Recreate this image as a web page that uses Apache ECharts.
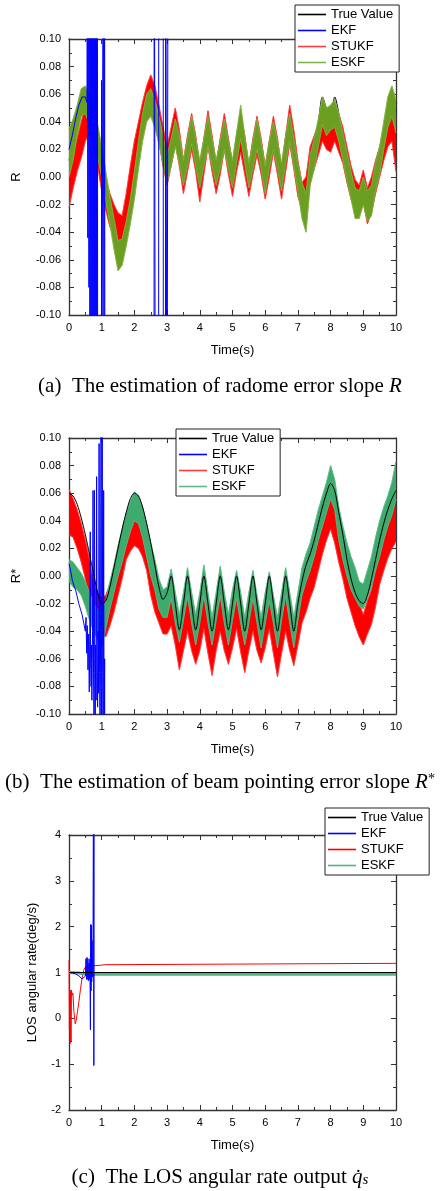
<!DOCTYPE html>
<html><head><meta charset="utf-8">
<script src="https://cdn.jsdelivr.net/npm/echarts@6/dist/echarts.min.js"></script>
<style>html,body{margin:0;padding:0;background:#fff}#c{width:440px;height:1191px}</style>
</head><body><div id="c"></div>
<script>
// sampling times (s)
const timeGrid = [
0,0.125,0.25,0.375,0.5,0.625,0.75,0.875,
1,1.125,1.25,1.375,1.5,1.625,1.75,1.875,
2,2.125,2.25,2.375,2.5,2.625,2.75,2.875,
3,3.125,3.25,3.375,3.5,3.625,3.75,3.875,
4,4.125,4.25,4.375,4.5,4.625,4.75,4.875,
5,5.125,5.25,5.375,5.5,5.625,5.75,5.875,
6,6.125,6.25,6.375,6.5,6.625,6.75,6.875,
7,7.125,7.25,7.375,7.5,7.625,7.75,7.875,
8,8.125,8.25,8.375,8.5,8.625,8.75,8.875,
9,9.125,9.25,9.375,9.5,9.625,9.75,9.875,
10];

// ---- Panel (a): R ----
const trueA = [
0.012,0.025,0.038,0.05,0.056,0.052,0.042,0.028,
0.012,-0.006,-0.022,-0.036,-0.045,-0.046,-0.038,-0.024,
-0.006,0.014,0.034,0.05,0.058,0.052,0.04,0.024,
0.008,0.02,0.034,0.021,0.005,0.02,0.035,0.02,
0.004,0.02,0.035,0.02,0.004,0.019,0.033,0.019,
0.003,0.021,0.038,0.02,0.002,0.018,0.033,0.018,
0.0,0.017,0.031,0.018,0.002,0.02,0.037,0.02,
0.003,-0.01,-0.017,0.016,0.026,0.04,0.058,0.05,
0.046,0.058,0.046,0.028,0.012,0.0,-0.012,-0.015,
0.001,-0.016,-0.014,0.002,0.014,0.03,0.05,0.059,
0.048];
const eskfAHi = [
0.035,0.042,0.052,0.064,0.066,0.06,0.05,0.038,
0.022,0.004,-0.014,-0.03,-0.046,-0.045,-0.032,-0.016,
0.004,0.026,0.046,0.06,0.064,0.056,0.044,0.03,
0.016,0.028,0.042,0.03,0.012,0.028,0.044,0.028,
0.012,0.028,0.044,0.028,0.012,0.026,0.042,0.026,
0.012,0.032,0.052,0.03,0.01,0.026,0.042,0.026,
0.008,0.026,0.04,0.026,0.01,0.03,0.046,0.028,
0.01,-0.004,-0.012,0.016,0.028,0.042,0.058,0.05,
0.052,0.056,0.046,0.032,0.018,0.004,-0.008,-0.01,
0.0,-0.01,-0.006,0.01,0.022,0.04,0.058,0.066,
0.056];
const eskfALo = [
0.0,0.012,0.03,0.044,0.046,0.038,0.028,0.014,
0.0,-0.018,-0.034,-0.052,-0.068,-0.064,-0.05,-0.034,
-0.016,0.006,0.026,0.04,0.044,0.036,0.024,0.01,
-0.004,0.008,0.022,0.01,-0.006,0.008,0.024,0.008,
-0.008,0.008,0.022,0.008,-0.006,0.006,0.02,0.006,
-0.008,0.01,0.028,0.01,-0.008,0.006,0.02,0.006,
-0.012,0.006,0.02,0.006,-0.01,0.01,0.026,0.008,
-0.01,-0.03,-0.04,-0.006,0.006,0.022,0.038,0.03,
0.034,0.036,0.026,0.012,-0.002,-0.016,-0.03,-0.03,
-0.02,-0.032,-0.028,-0.01,0.002,0.02,0.036,0.044,
0.032];
const stukfAHi = [
0.018,0.018,0.028,0.04,0.052,0.058,0.052,0.036,
0.014,-0.002,-0.012,-0.02,-0.026,-0.028,-0.012,0.008,
0.026,0.04,0.054,0.066,0.074,0.066,0.052,0.036,
0.022,0.036,0.05,0.034,0.012,0.03,0.046,0.03,
0.008,0.028,0.048,0.03,0.01,0.028,0.046,0.028,
0.01,0.03,0.046,0.03,0.008,0.028,0.044,0.028,
0.008,0.026,0.044,0.028,0.006,0.03,0.052,0.034,
0.012,-0.004,0.0,0.022,0.03,0.038,0.048,0.04,
0.046,0.052,0.046,0.036,0.022,0.008,-0.002,-0.006,
0.005,-0.008,0.0,0.012,0.022,0.034,0.046,0.052,
0.042];
const stukfALo = [
-0.022,-0.008,0.004,0.014,0.026,0.032,0.024,0.008,
-0.01,-0.024,-0.036,-0.043,-0.048,-0.054,-0.04,-0.018,
0.0,0.016,0.03,0.044,0.052,0.04,0.026,0.008,
-0.006,0.008,0.024,0.008,-0.012,0.004,0.02,0.004,
-0.018,0.002,0.022,0.004,-0.012,0.002,0.02,0.002,
-0.014,0.004,0.018,0.002,-0.014,0.002,0.016,0.002,
-0.016,0.0,0.018,0.002,-0.016,0.004,0.024,0.006,
-0.014,-0.024,-0.028,-0.004,0.006,0.016,0.026,0.02,
0.018,0.026,0.018,0.01,-0.004,-0.016,-0.024,-0.028,
-0.018,-0.034,-0.026,-0.012,0.0,0.012,0.022,0.026,
0.004];
// EKF (a): [time, value]; values beyond +/-0.1 are off-scale
const ekfA = [[0,0.02],[0.1,0.03],[0.2,0.042],[0.3,0.052],[0.4,0.058],[0.5,0.058],[0.55,0.054],
[0.56,0.3],[0.575,-0.044],[0.59,0.3],[0.61,-0.08],[0.625,0.3],[0.64,-0.3],[0.655,0.3],[0.67,-0.3],
[0.685,0.3],[0.7,-0.3],[0.715,0.3],[0.73,-0.3],[0.745,0.3],[0.76,-0.3],[0.775,0.3],[0.79,-0.3],
[0.805,0.3],[0.82,-0.3],[0.835,0.3],[0.85,-0.3],[0.865,0.3],[0.88,-0.3],
[0.99,-0.3],[0.995,0.07],[1.0,-0.3],[1.045,-0.3],[1.05,0.3],[1.07,-0.3],[1.085,0.3],[1.1,-0.3],
[2.6,-0.3],[2.605,0.3],[2.64,0.3],[2.645,-0.3],[2.74,-0.3],[2.745,0.3],[2.88,0.3],[2.885,-0.3],
[2.95,-0.3],[2.955,0.3],[2.99,0.3],[2.995,-0.3],[3.03,-0.3],[3.035,0.3],[10,0.3]];

// ---- Panel (b): R* ----
const trueB = [
0.06,0.058,0.052,0.042,0.03,0.016,0.002,-0.012,
-0.02,-0.018,-0.008,0.006,0.02,0.034,0.046,0.056,
0.06,0.058,0.05,0.038,0.024,0.008,-0.008,-0.017,
-0.012,0.0,-0.02,-0.039,-0.02,0.0,-0.02,-0.039,
-0.02,0.0,-0.02,-0.04,-0.02,0.0,-0.02,-0.039,
-0.02,0.0,-0.02,-0.04,-0.02,0.0,-0.02,-0.039,
-0.02,0.0,-0.02,-0.04,-0.02,0.0,-0.02,-0.04,
-0.02,-0.004,0.008,0.016,0.026,0.038,0.05,0.06,
0.067,0.062,0.046,0.03,0.012,-0.002,-0.012,-0.018,
-0.02,-0.014,-0.002,0.012,0.026,0.038,0.048,0.056,
0.062];
const eskfBHi = [
0.012,0.01,0.006,0.002,-0.004,-0.012,-0.02,-0.024,
-0.026,-0.018,-0.004,0.008,0.022,0.034,0.046,0.054,
0.061,0.058,0.05,0.038,0.024,0.012,-0.002,-0.01,
-0.008,0.005,-0.012,-0.028,-0.012,0.006,-0.012,-0.028,
-0.012,0.008,-0.012,-0.03,-0.012,0.007,-0.012,-0.028,
-0.01,0.004,-0.012,-0.03,-0.012,0.004,-0.014,-0.03,
-0.012,0.003,-0.014,-0.03,-0.012,0.006,-0.012,-0.03,
-0.012,0.006,0.016,0.024,0.036,0.048,0.058,0.068,
0.08,0.07,0.05,0.036,0.024,0.014,0.006,-0.004,
-0.006,0.004,0.014,0.028,0.04,0.05,0.058,0.068,
0.083];
const eskfBLo = [
-0.004,-0.008,-0.01,-0.014,-0.022,-0.032,-0.04,-0.046,
-0.052,-0.038,-0.024,-0.012,0.0,0.01,0.022,0.032,
0.04,0.038,0.028,0.014,0.0,-0.01,-0.024,-0.03,
-0.03,-0.016,-0.034,-0.048,-0.032,-0.014,-0.034,-0.05,
-0.034,-0.014,-0.034,-0.05,-0.032,-0.014,-0.034,-0.05,
-0.032,-0.016,-0.034,-0.05,-0.034,-0.016,-0.034,-0.052,
-0.034,-0.018,-0.034,-0.052,-0.032,-0.014,-0.034,-0.052,
-0.032,-0.014,-0.004,0.004,0.014,0.026,0.036,0.046,
0.056,0.048,0.026,0.012,0.0,-0.01,-0.016,-0.022,
-0.024,-0.016,-0.008,0.004,0.014,0.026,0.036,0.044,
0.056];
const stukfBHi = [
0.063,0.056,0.048,0.038,0.026,0.012,-0.004,-0.012,
-0.016,-0.014,-0.006,0.002,0.012,0.026,0.036,0.042,
0.045,0.044,0.038,0.03,0.014,0.0,-0.01,-0.016,
-0.018,-0.012,-0.026,-0.042,-0.03,-0.016,-0.03,-0.04,
-0.03,-0.014,-0.03,-0.046,-0.03,-0.014,-0.03,-0.04,
-0.028,-0.014,-0.03,-0.044,-0.03,-0.015,-0.03,-0.04,
-0.028,-0.014,-0.03,-0.046,-0.03,-0.015,-0.03,-0.04,
-0.024,-0.008,0.002,0.01,0.018,0.03,0.042,0.052,
0.062,0.052,0.036,0.024,0.01,0.0,-0.01,-0.02,
-0.028,-0.018,-0.01,0.006,0.024,0.036,0.044,0.05,
0.058];
const stukfBLo = [
0.03,0.028,0.02,0.01,-0.002,-0.016,-0.03,-0.038,
-0.04,-0.044,-0.036,-0.026,-0.014,-0.002,0.012,0.018,
0.022,0.02,0.014,0.004,-0.014,-0.026,-0.034,-0.042,
-0.042,-0.036,-0.05,-0.068,-0.054,-0.04,-0.054,-0.064,
-0.054,-0.038,-0.056,-0.072,-0.054,-0.04,-0.054,-0.064,
-0.052,-0.038,-0.055,-0.07,-0.054,-0.04,-0.054,-0.063,
-0.052,-0.038,-0.056,-0.073,-0.056,-0.04,-0.054,-0.065,
-0.05,-0.034,-0.026,-0.016,-0.008,0.004,0.016,0.026,
0.034,0.024,0.01,-0.002,-0.016,-0.026,-0.036,-0.044,
-0.05,-0.042,-0.035,-0.022,-0.006,0.004,0.013,0.02,
0.025];
const ekfB = [[0,0.009],[0.05,0.004],[0.1,-0.003],[0.15,-0.007],[0.2,-0.01],[0.25,-0.015],[0.3,-0.02],
[0.35,-0.024],[0.4,-0.028],[0.45,-0.034],[0.5,-0.04],[0.52,-0.03],[0.54,-0.056],[0.56,-0.036],
[0.58,-0.068],[0.6,-0.042],[0.62,-0.084],[0.635,-0.045],[0.65,0.032],[0.66,-0.06],[0.675,-0.08],
[0.69,-0.05],[0.7,-0.09],[0.72,-0.04],[0.735,0.062],[0.75,-0.07],[0.765,-0.1],[0.78,0.062],
[0.79,-0.06],[0.8,-0.12],[0.815,-0.05],[0.83,-0.09],[0.845,0.072],[0.86,-0.06],[0.875,-0.095],
[0.89,-0.04],[0.905,-0.085],[0.92,0.096],[0.935,-0.07],[0.95,-0.12],[0.965,-0.05],[0.98,0.15],
[0.99,-0.08],[1.0,-0.12],[1.015,0.15],[1.03,-0.07],[1.045,-0.15],[1.06,0.062],[1.075,-0.15],
[1.09,-0.06],[1.1,-0.3],[10,-0.3]];

// ---- Panel (c): LOS angular rate (deg/s) ----
const trueC = [[0,1],[10,1]];
const eskfC = [[0,1.0],[0.3,0.99],[0.45,0.972],[0.6,0.962],[10,0.962]];
const stukfC = [[0,1.27],[0.012,-0.25],[0.024,0.62],[0.036,-0.55],[0.05,0.6],[0.062,-0.5],[0.075,0.62],
[0.09,0.5],[0.12,0.55],[0.15,0.15],[0.19,-0.12],[0.22,-0.05],[0.26,0.15],[0.3,0.35],[0.35,0.63],
[0.4,0.88],[0.45,1.05],[0.5,1.12],[0.6,1.14],[0.8,1.15],[1.0,1.16],[1.08,1.17],[1.12,1.2],[10,1.2]];
const ekfC = [[0,1.0],[0.1,0.99],[0.2,0.97],[0.3,0.93],[0.4,0.86],[0.45,0.82],[0.5,0.92],[0.52,1.3],
[0.535,0.85],[0.55,1.33],[0.565,0.85],[0.58,1.3],[0.595,0.82],[0.61,1.2],[0.625,0.85],[0.64,1.3],
[0.655,-0.25],[0.665,2.05],[0.675,0.6],[0.685,2.03],[0.695,0.8],[0.705,1.7],[0.72,0.9],[0.735,1.7],
[0.75,6],[0.76,-1.03],[0.77,6],[10,6]];

const legendNames = ['True Value','EKF','STUKF','ESKF'];

const F = 'Liberation Sans, Arial, sans-serif';
const S = 'Liberation Serif, Times New Roman, serif';
const AX = '#333';

function xAxes(g) {
  const base = {type:'value', gridIndex:g, min:0, max:10, interval:1,
    axisLine:{show:true,onZero:false,lineStyle:{color:AX,width:1.3}},
    axisTick:{show:true,inside:true,length:5,lineStyle:{color:AX,width:1}},
    minorTick:{show:true,splitNumber:2,length:3,lineStyle:{color:AX,width:1}},
    splitLine:{show:false}, minorSplitLine:{show:false}};
  return [
    Object.assign({}, base, {position:'bottom',
      axisLabel:{fontSize:11,color:'#000',margin:7,fontFamily:F},
      name:'Time(s)', nameLocation:'middle', nameGap:29,
      nameTextStyle:{fontSize:13,color:'#000',fontFamily:F}}),
    Object.assign({}, base, {position:'top', axisLabel:{show:false}})
  ];
}
function yAxes(g, min, max, interval, dec, name, gap) {
  const base = {type:'value', gridIndex:g, min, max, interval,
    axisLine:{show:true,onZero:false,lineStyle:{color:AX,width:1.3}},
    axisTick:{show:true,inside:true,length:5,lineStyle:{color:AX,width:1}},
    minorTick:{show:true,splitNumber:2,length:3,lineStyle:{color:AX,width:1}},
    splitLine:{show:false}, minorSplitLine:{show:false}};
  return [
    Object.assign({}, base, {position:'left',
      axisLabel:{fontSize:11,color:'#000',margin:8,fontFamily:F,
        formatter: v => (Math.abs(v) < 1e-9 ? 0 : v).toFixed(dec)},
      name, nameLocation:'middle', nameGap:gap,
      nameTextStyle:{fontSize:13,color:'#000',fontFamily:F}}),
    Object.assign({}, base, {position:'right', axisLabel:{show:false}})
  ];
}
function line(name, data, p, color, width, z, extra) {
  return Object.assign({name, type:'line', xAxisIndex:2*p, yAxisIndex:2*p, data, z,
    symbol:'none', lineStyle:{color, width}, itemStyle:{color},
    emphasis:{disabled:true}, animation:false}, extra || {});
}
// noisy estimate drawn as a filled band between its lower and upper envelopes
function band(name, lo, hi, p, fill, edge, z) {
  const rows = timeGrid.map((t,k) => [t, lo[k], hi[k]]);
  return [
    {name: name + ' band', type:'custom', xAxisIndex:2*p, yAxisIndex:2*p, data: rows, clip:true, z,
      encode:{x:0, y:[1,2]}, silent:true, animation:false,
      renderItem: function (params, api) {
        if (params.dataIndex !== 0) return null;
        const pts = [];
        for (let k = 0; k < rows.length; k++) pts.push(api.coord([rows[k][0], rows[k][2]]));
        for (let k = rows.length - 1; k >= 0; k--) pts.push(api.coord([rows[k][0], rows[k][1]]));
        return {type:'polygon', shape:{points:pts}, style:{fill:fill, stroke:fill, lineWidth:0.5}};
      }},
    line(name, rows.map(r => [r[0], r[2]]), p, edge, 0.8, z),
    line(name + ' lo', rows.map(r => [r[0], r[1]]), p, edge, 0.8, z)
  ];
}
function legend(sfx, left, top) {
  return {left, top, orient:'vertical', itemWidth:28, itemHeight:14, itemGap:3,
    icon:'path://M0,0L28,0L28,1.6L0,1.6Z',
    padding:[3,6,3,3], borderColor:'#222', borderWidth:1, backgroundColor:'#fff',
    textStyle:{fontSize:13, color:'#000', fontFamily:F}, selectedMode:false,
    formatter: n => n.split('|')[0],
    data: legendNames.map(n => n + '|' + sfx)};
}

const GA = '#6b9f22', GAe = '#84b447';
const GB = '#3daa6e', GBe = '#5dba8a';
const GC = '#52b383';

const series = [].concat(
  // (a)
  [line('True Value|a', timeGrid.map((t,k)=>[t,trueA[k]]), 0, '#000', 1, 1, {smooth:0.3})],
  band('STUKF|a', stukfALo, stukfAHi, 0, '#ff0000', '#ff3b3b', 2),
  band('ESKF|a', eskfALo, eskfAHi, 0, GA, GAe, 3),
  [line('EKF|a', ekfA, 0, '#0000ff', 1, 4)],
  // (b)
  band('STUKF|b', stukfBLo, stukfBHi, 1, '#ff0000', '#ff3b3b', 2),
  band('ESKF|b', eskfBLo, eskfBHi, 1, GB, GBe, 3),
  [line('EKF|b', ekfB, 1, '#0000ff', 1, 4)],
  [line('True Value|b', timeGrid.map((t,k)=>[t,trueB[k]]), 1, '#000', 1, 5, {smooth:0.3})],
  // (c)
  [line('STUKF|c', stukfC, 2, '#ff0000', 1, 2)],
  [line('ESKF|c', eskfC, 2, GC, 3, 3)],
  [line('EKF|c', ekfC, 2, '#0000ff', 1, 4)],
  [line('True Value|c', trueC, 2, '#000', 1.2, 5)]
);

const chart = echarts.init(document.getElementById('c'), null, {renderer:'canvas'});
chart.setOption({
  animation:false,
  backgroundColor:'#fff',
  title:[
    {text:'(a)  The estimation of radome error slope {i|R}', left:'center', top:371,
     textStyle:{fontFamily:S, fontSize:21, fontWeight:'normal', color:'#000',
       rich:{i:{fontFamily:S, fontSize:21, fontStyle:'italic', color:'#000'}}}},
    {text:'(b)  The estimation of beam pointing error slope {i|R}{sup|*}', left:'center', top:767,
     textStyle:{fontFamily:S, fontSize:21, fontWeight:'normal', color:'#000',
       rich:{i:{fontFamily:S, fontSize:21, fontStyle:'italic', color:'#000'},
             sup:{fontFamily:S, fontSize:14, color:'#000', verticalAlign:'top'}}}},
    {text:'(c)  The LOS angular rate output {i|q\u0307}{sub|s}', left:'center', top:1162,
     textStyle:{fontFamily:S, fontSize:21, fontWeight:'normal', color:'#000',
       rich:{i:{fontFamily:S, fontSize:21, fontStyle:'italic', color:'#000'},
             sub:{fontFamily:S, fontSize:15, fontStyle:'italic', color:'#000', verticalAlign:'bottom'}}}}
  ],
  legend:[legend('a',295,5), legend('b',176,429), legend('c',325,808)],
  grid:[
    {left:69, top:39, width:327, height:276},
    {left:69, top:438, width:327, height:276},
    {left:69, top:835, width:327, height:275}
  ],
  xAxis:[].concat(xAxes(0), xAxes(1), xAxes(2)),
  yAxis:[].concat(
    yAxes(0,-0.1,0.1,0.02,2,'R',46),
    yAxes(1,-0.1,0.1,0.02,2,'R*',46),
    yAxes(2,-2,4,1,0,'LOS angular rate(deg/s)',30)),
  series
});
</script>
</body></html>
